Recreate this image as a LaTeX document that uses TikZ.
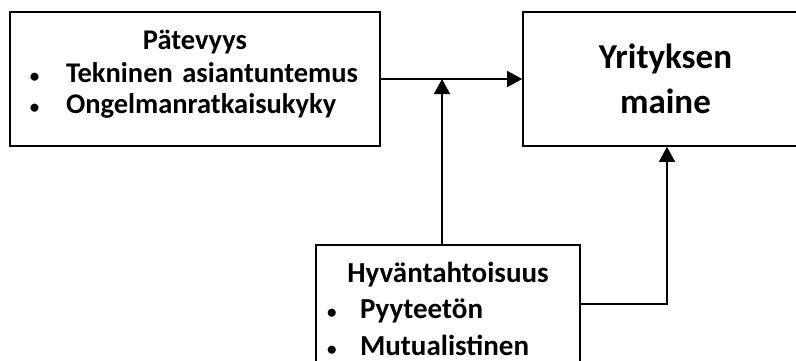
\documentclass[tikz,border=0pt]{standalone}
\usepackage{fontspec}
\setmainfont{Carlito}
\usetikzlibrary{positioning,arrows.meta}
\newcommand\itm[2][36pt]{\makebox[#1][l]{\fontsize{19}{19}\selectfont\textbullet}\mbox{#2}}

\begin{document}
\begin{tikzpicture}[x=1pt,y=-1pt,>={Triangle[length=15pt,width=16pt]},
  box/.style={draw,line width=1.6pt,align=left,inner sep=0pt},
  link/.style={line width=1.5pt}]
 \clip (0,0) rectangle (796,360);
 \node[box,minimum width=370pt,minimum height=134pt,text width=330pt,
       font=\bfseries\fontsize{28.5}{31}\selectfont] (pat) at (195,79)
   {\makebox[330pt]{Pätevyys}\\[2pt]
    \itm{Tekninen asiantuntemus}\\\itm{Ongelmanratkaisukyky}\rule[-15pt]{0pt}{1pt}};
 \node[box,align=center,minimum width=285pt,minimum height=134pt,
       font=\bfseries\fontsize{35}{45}\selectfont] (mai) at (665.5,79)
   {Yrityksen\\maine};
 \node[box,minimum width=264pt,minimum height=127pt,text width=242pt,
       font=\bfseries\fontsize{29}{36.5}\selectfont] (hyv) at (448,308.5)
   {\makebox[242pt]{Hyväntahtoisuus}\\
    \itm[33pt]{Pyyteetön}\\\itm[33pt]{Mutualistinen}};
 \coordinate (j) at (hyv.north -| 442,0);
 \draw[link,->] (pat.east) -- (mai.west);
 \draw[link,->] (j) -- (j |- pat.east);
 \draw[link,->] (hyv.east |- 0,304) -| (mai.south -| 667,0);
\end{tikzpicture}
\end{document}
